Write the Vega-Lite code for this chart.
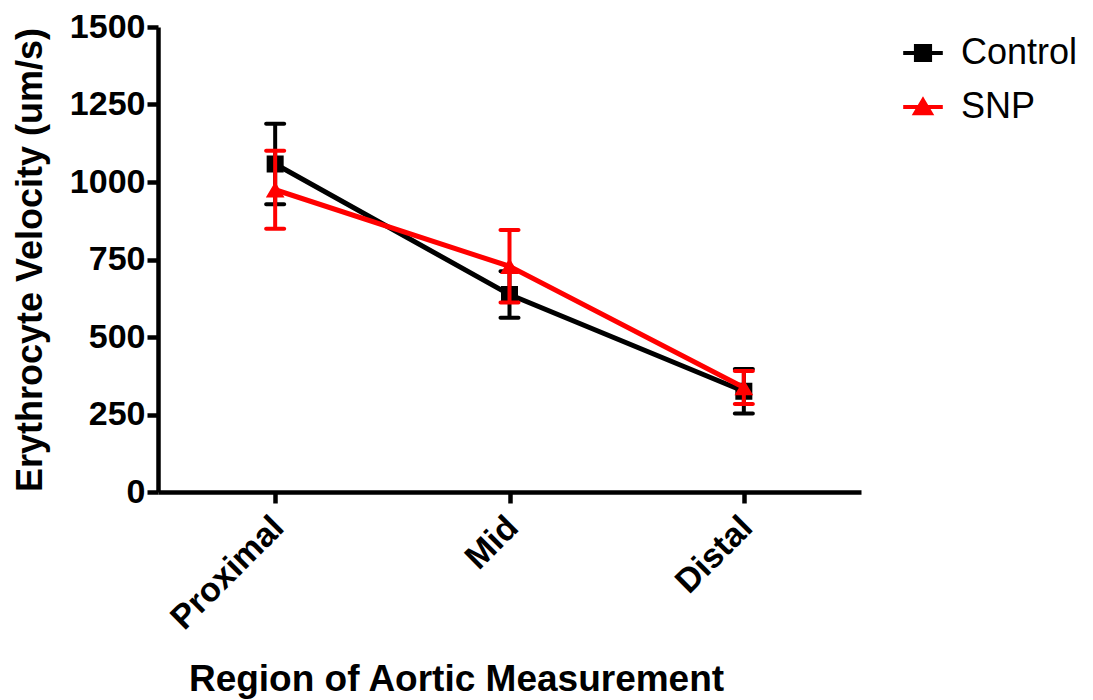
{
  "$schema": "https://vega.github.io/schema/vega-lite/v6.json",
  "width": 703,
  "height": 465,
  "autosize": {"type": "none"},
  "padding": {"left": 158, "top": 27, "right": 232, "bottom": 208},
  "background": "white",
  "data": {
    "values": [
      {"region": "Proximal", "series": "Control", "mean": 1058, "lo": 928, "hi": 1188},
      {"region": "Mid", "series": "Control", "mean": 637, "lo": 562, "hi": 712},
      {"region": "Distal", "series": "Control", "mean": 325, "lo": 253, "hi": 397},
      {"region": "Proximal", "series": "SNP", "mean": 975, "lo": 849, "hi": 1101},
      {"region": "Mid", "series": "SNP", "mean": 728, "lo": 611, "hi": 845},
      {"region": "Distal", "series": "SNP", "mean": 337, "lo": 284, "hi": 390}
    ]
  },
  "encoding": {
    "x": {
      "field": "region",
      "type": "nominal",
      "sort": ["Proximal", "Mid", "Distal"],
      "scale": {"type": "point", "padding": 0.5},
      "title": "Region of Aortic Measurement",
      "axis": {"labelAngle": -45, "labelPadding": 7, "labelOffset": -9, "titlePadding": 26, "titleX": 298, "titleAlign": "center", "titleFontSize": 37}
    },
    "color": {
      "field": "series",
      "type": "nominal",
      "scale": {"domain": ["Control", "SNP"], "range": ["#000000", "#ff0000"]},
      "legend": {"orient": "none", "legendX": 747, "legendY": 8, "title": null, "padding": 0, "labelFont": "Liberation Sans", "labelFontSize": 36, "labelFontWeight": "normal", "labelColor": "black", "labelOffset": 20, "rowPadding": 18, "symbolSize": 200, "symbolOpacity": 1, "encode": {"symbols": {"update": {"fill": {"scale": "color", "field": "value"}, "stroke": {"scale": "color", "field": "value"}, "strokeWidth": {"value": 4}, "opacity": {"value": 1}}}}}
    }
  },
  "layer": [
    {
      "transform": [{"filter": "datum.series == 'Control'"}],
      "layer": [
        {"mark": {"type": "rule", "strokeWidth": 4}, "encoding": {"y": {"field": "lo", "type": "quantitative", "scale": {"domain": [0, 1500], "nice": false}, "title": "Erythrocyte Velocity (um/s)", "axis": {"values": [0, 250, 500, 750, 1000, 1250, 1500], "format": "d", "labelPadding": 2, "titlePadding": 20}}, "y2": {"field": "hi"}}},
        {"mark": {"type": "tick", "size": 22, "thickness": 4, "cornerRadius": 2, "opacity": 1}, "encoding": {"y": {"field": "lo", "type": "quantitative", "title": "Erythrocyte Velocity (um/s)"}}},
        {"mark": {"type": "tick", "size": 22, "thickness": 4, "cornerRadius": 2, "opacity": 1}, "encoding": {"y": {"field": "hi", "type": "quantitative", "title": "Erythrocyte Velocity (um/s)"}}},
        {"mark": {"type": "line", "strokeWidth": 5}, "encoding": {"y": {"field": "mean", "type": "quantitative", "title": "Erythrocyte Velocity (um/s)"}}},
        {
          "mark": {"type": "point", "filled": true, "size": 289, "strokeWidth": 0, "opacity": 1},
          "encoding": {
            "y": {"field": "mean", "type": "quantitative", "title": "Erythrocyte Velocity (um/s)"},
            "shape": {
              "field": "series", "type": "nominal",
              "scale": {"domain": ["Control", "SNP"], "range": ["M-2.8,0H2.8M-1,-1H1V1H-1Z", "M-2.8,0H2.8M0,-0.95L1.1,0.9H-1.1Z"]},
              "legend": {"orient": "none", "legendX": 747, "legendY": 8, "title": null, "padding": 0, "labelFont": "Liberation Sans", "labelFontSize": 36, "labelFontWeight": "normal", "labelColor": "black", "labelOffset": 20, "rowPadding": 18, "symbolSize": 200, "symbolOpacity": 1, "encode": {"symbols": {"update": {"fill": {"scale": "color", "field": "value"}, "stroke": {"scale": "color", "field": "value"}, "strokeWidth": {"value": 4}, "opacity": {"value": 1}}}}}
            }
          }
        }
      ]
    },
    {
      "transform": [{"filter": "datum.series == 'SNP'"}],
      "layer": [
        {"mark": {"type": "rule", "strokeWidth": 4}, "encoding": {"y": {"field": "lo", "type": "quantitative", "title": "Erythrocyte Velocity (um/s)"}, "y2": {"field": "hi"}}},
        {"mark": {"type": "tick", "size": 22, "thickness": 4, "cornerRadius": 2, "opacity": 1}, "encoding": {"y": {"field": "lo", "type": "quantitative", "title": "Erythrocyte Velocity (um/s)"}}},
        {"mark": {"type": "tick", "size": 22, "thickness": 4, "cornerRadius": 2, "opacity": 1}, "encoding": {"y": {"field": "hi", "type": "quantitative", "title": "Erythrocyte Velocity (um/s)"}}},
        {"mark": {"type": "line", "strokeWidth": 5}, "encoding": {"y": {"field": "mean", "type": "quantitative", "title": "Erythrocyte Velocity (um/s)"}}},
        {
          "mark": {"type": "point", "filled": true, "size": 289, "strokeWidth": 0, "opacity": 1},
          "encoding": {
            "y": {"field": "mean", "type": "quantitative", "title": "Erythrocyte Velocity (um/s)"},
            "shape": {
              "field": "series", "type": "nominal",
              "scale": {"domain": ["Control", "SNP"], "range": ["M-2.8,0H2.8M-1,-1H1V1H-1Z", "M-2.8,0H2.8M0,-0.95L1.1,0.9H-1.1Z"]},
              "legend": {"orient": "none", "legendX": 747, "legendY": 8, "title": null, "padding": 0, "labelFont": "Liberation Sans", "labelFontSize": 36, "labelFontWeight": "normal", "labelColor": "black", "labelOffset": 20, "rowPadding": 18, "symbolSize": 200, "symbolOpacity": 1, "encode": {"symbols": {"update": {"fill": {"scale": "color", "field": "value"}, "stroke": {"scale": "color", "field": "value"}, "strokeWidth": {"value": 4}, "opacity": {"value": 1}}}}}
            }
          }
        }
      ]
    }
  ],
  "config": {
    "view": {"stroke": null},
    "axis": {
      "labelFont": "Liberation Sans",
      "labelFontWeight": "bold",
      "labelFontSize": 34,
      "labelColor": "black",
      "titleFont": "Liberation Sans",
      "titleFontWeight": "bold",
      "titleFontSize": 36,
      "titleColor": "black",
      "domainColor": "black",
      "domainWidth": 4.5,
      "tickColor": "black",
      "tickWidth": 4.5,
      "tickSize": 11,
      "grid": false
    }
  }
}
